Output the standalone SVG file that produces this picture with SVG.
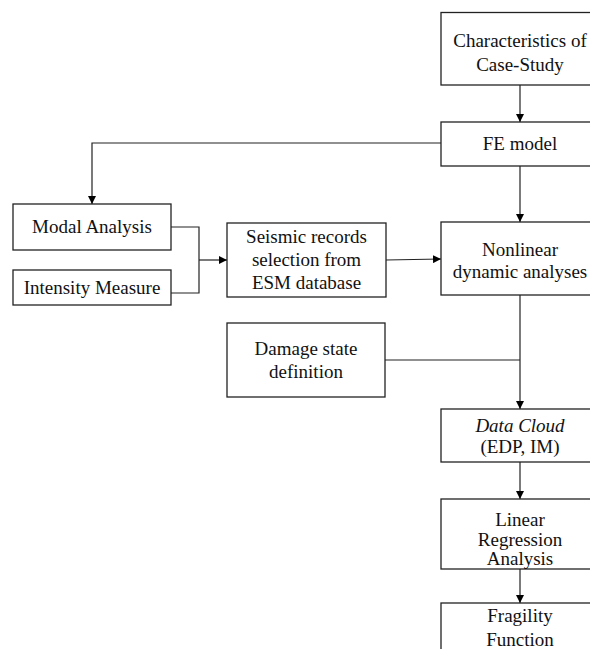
<svg xmlns="http://www.w3.org/2000/svg" width="590" height="649" viewBox="0 0 590 649">
<defs>
<marker id="arr" viewBox="0 0 10 10" refX="10" refY="5" markerWidth="8" markerHeight="8" markerUnits="userSpaceOnUse" orient="auto">
<path d="M0,0 L10,5 L0,10 z" fill="#000"/>
</marker>
</defs>
<style>
.box{fill:#fff;stroke:#222;stroke-width:1.3}
.t{font-family:"Liberation Serif","Times New Roman",serif;font-size:19px;fill:#111;text-anchor:middle}
.it{font-style:italic}
.c{fill:none;stroke:#222;stroke-width:1.2}
.a{marker-end:url(#arr)}
</style>
<rect width="590" height="649" fill="#fff"/>
<g id="connectors">
<path class="c a" d="M520,85 V122"/>
<path class="c a" d="M441,143 H92 V204"/>
<path class="c a" d="M520,166 V222"/>
<path class="c" d="M171,227 H199 V293 H171"/>
<path class="c a" d="M199,260 H227"/>
<path class="c a" d="M386,260 L441,259"/>
<path class="c a" d="M520,295 V409"/>
<path class="c" d="M385,360 H520"/>
<path class="c a" d="M520,462 V499"/>
<path class="c a" d="M520,569 V603"/>
</g>
<g id="case-study">
<rect class="box" x="441" y="12.5" width="160" height="72.5"/>
<text class="t" x="520" y="47">Characteristics of</text>
<text class="t" x="520" y="71">Case-Study</text>
</g>
<g id="fe-model">
<rect class="box" x="441" y="122" width="160" height="44"/>
<text class="t" x="520" y="150">FE model</text>
</g>
<g id="modal-analysis">
<rect class="box" x="13" y="204" width="158" height="46"/>
<text class="t" x="92" y="233">Modal Analysis</text>
</g>
<g id="intensity-measure">
<rect class="box" x="13" y="270" width="158" height="35"/>
<text class="t" x="92" y="294">Intensity Measure</text>
</g>
<g id="seismic-records">
<rect class="box" x="227" y="223" width="159" height="74"/>
<text class="t" x="306.5" y="243">Seismic records</text>
<text class="t" x="306.5" y="266">selection from</text>
<text class="t" x="306.5" y="289">ESM database</text>
</g>
<g id="nonlinear">
<rect class="box" x="441" y="222" width="160" height="73"/>
<text class="t" x="520" y="256">Nonlinear</text>
<text class="t" x="520" y="278">dynamic analyses</text>
</g>
<g id="damage-state">
<rect class="box" x="227" y="323" width="158" height="74"/>
<text class="t" x="306" y="355">Damage state</text>
<text class="t" x="306" y="378">definition</text>
</g>
<g id="data-cloud">
<rect class="box" x="441" y="409" width="160" height="53"/>
<text class="t it" x="520" y="432">Data Cloud</text>
<text class="t" x="520" y="453">(EDP, IM)</text>
</g>
<g id="linear-regression">
<rect class="box" x="441" y="499" width="160" height="70"/>
<text class="t" x="520" y="526">Linear</text>
<text class="t" x="520" y="546">Regression</text>
<text class="t" x="520" y="565">Analysis</text>
</g>
<g id="fragility">
<rect class="box" x="441" y="603" width="160" height="60"/>
<text class="t" x="520" y="622">Fragility</text>
<text class="t" x="520" y="646">Function</text>
</g>
</svg>
